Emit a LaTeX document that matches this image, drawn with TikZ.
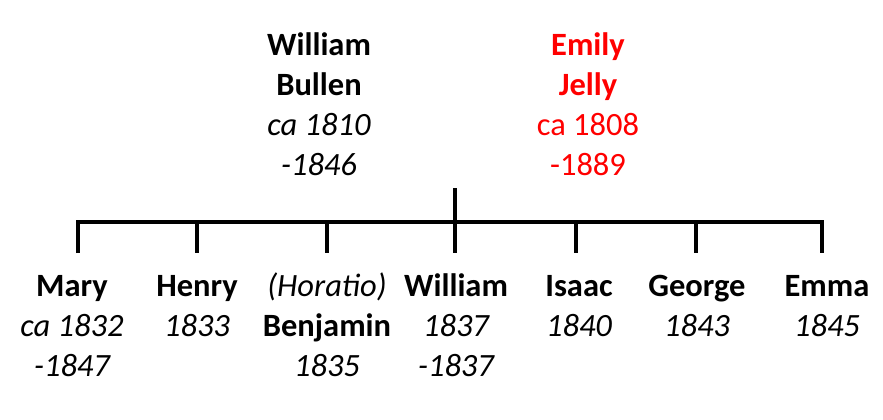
\documentclass[tikz,border=0pt]{standalone}
\usepackage{fontspec}
\setmainfont{Carlito}
\tikzset{
  person/.style={align=center, anchor=base, inner sep=0pt, font=\fontsize{32.5}{40}\selectfont},
  line/.style={line width=4pt}
}
\begin{document}
\begin{tikzpicture}[x=1pt,y=-1pt]
\useasboundingbox (0,0) rectangle (883,420);

% parents (anchor = baseline of last line)
\node[person] (wb) at (319,175) {\bfseries William\\\bfseries Bullen\\\itshape ca 1810\\\itshape -1846};
\node[person,red] (ej) at (588,175) {\bfseries Emily\\\bfseries Jelly\\ca 1808\\-1889};

% bar
\coordinate (top) at (455,188);
\coordinate (d1) at (78,222);
\coordinate (d2) at (197,222);
\coordinate (d3) at (327,222);
\coordinate (d4) at (455,222);
\coordinate (d5) at (576,222);
\coordinate (d6) at (696,222);
\coordinate (d7) at (822,222);
\coordinate (e1) at (78,253);
\coordinate (e2) at (197,253);
\coordinate (e3) at (327,253);
\coordinate (e4) at (455,253);
\coordinate (e5) at (576,253);
\coordinate (e6) at (696,253);
\coordinate (e7) at (822,253);
\draw[line] (e1) -- (d1) -- (d7) -- (e7);
\draw[line] (d2) -- (e2);
\draw[line] (d3) -- (e3);
\draw[line] (top) -- (e4);
\draw[line] (d5) -- (e5);
\draw[line] (d6) -- (e6);

% children
\node[person] (mary) at (72,376) {\bfseries Mary\\\itshape ca 1832\\\itshape -1847};
\node[person] (henry) at (197,336) {\bfseries Henry\\\itshape 1833};
\node[person] (benjamin) at (327,376) {\itshape (Horatio)\\\bfseries Benjamin\\\itshape 1835};
\node[person] (william) at (456,376) {\bfseries William\\\itshape 1837\\\itshape -1837};
\node[person] (isaac) at (579,336) {\bfseries Isaac\\\itshape 1840};
\node[person] (george) at (697,336) {\bfseries George\\\itshape 1843};
\node[person] (emma) at (827,336) {\bfseries Emma\\\itshape 1845};
\end{tikzpicture}
\end{document}
